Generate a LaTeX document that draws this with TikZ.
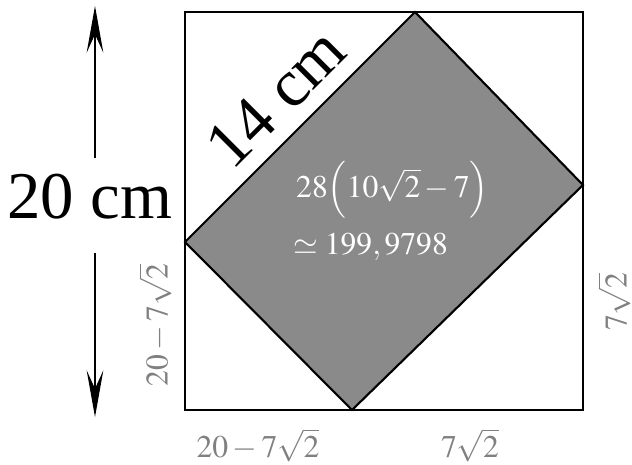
\documentclass[tikz,border=0pt]{standalone}
\usepackage{mathptmx}
\usepackage{fontspec}
\setmainfont{Liberation Serif}
\usepackage{tikz}
\usetikzlibrary{arrows.meta,positioning}

\definecolor{areagray}{HTML}{8A8A8A}
\definecolor{dimgray}{HTML}{808080}

\begin{document}
\begin{tikzpicture}[
    x=0.03cm, y=-0.03cm,
    edge/.style={line width=1.8pt, line join=miter},
    biglbl/.style={font=\fontsize{57}{62}\selectfont, inner sep=0pt},
    dimlbl/.style={text=dimgray, font=\fontsize{27}{32}\selectfont, inner sep=0pt},
    arealbl/.style={text=white, font=\fontsize{27}{32}\selectfont, inner sep=0pt, anchor=west},
    dimarrow/.style={line width=0.9pt, -{Stealth[length=1.4cm, width=0.5cm, inset=0.55cm]}},
]
    \useasboundingbox (0,0) rectangle (632,464);
    % square and grey rectangle
    \coordinate (sqLL) at (185,410);
    \coordinate (sqUR) at (583,12);
    \coordinate (rTop) at (415,12);
    \coordinate (rRight) at (583,185);
    \coordinate (rBottom) at (352,410);
    \coordinate (rLeft) at (185,242);
    \filldraw[edge, fill=areagray] (rTop) -- (rRight) -- (rBottom) -- (rLeft) -- cycle;
    \draw[edge] (sqLL) rectangle (sqUR);

    % lengths
    \node[biglbl] (len20) at (90,197) {20 cm};
    \node[biglbl, rotate=45] (len14) at (276,98) {14 cm};
    \coordinate (tipUp) at (95,6);
    \coordinate (tipDown) at (95,417);
    \draw[dimarrow, shorten <=0.5cm] (len20.north -| tipUp) -- (tipUp);
    \draw[dimarrow, shorten <=1.0cm] (len20.south -| tipDown) -- (tipDown);

    % area
    \node[arealbl] (area) at (296,190) {$28\Bigl(10\sqrt{2}-7\Bigr)$};
    \node[arealbl] (approx) at (293,247) {$\simeq 199,9798$};

    % sides of the corner triangles
    \node[dimlbl, rotate=90] (sideL) at (155,325) {$20-7\sqrt{2}$};
    \node[dimlbl] (sideB) at (258,445) {$20-7\sqrt{2}$};
    \node[dimlbl] (sideBR) at (470,445) {$7\sqrt{2}$};
    \node[dimlbl, rotate=90] (sideR) at (614,302) {$7\sqrt{2}$};
\end{tikzpicture}
\end{document}
